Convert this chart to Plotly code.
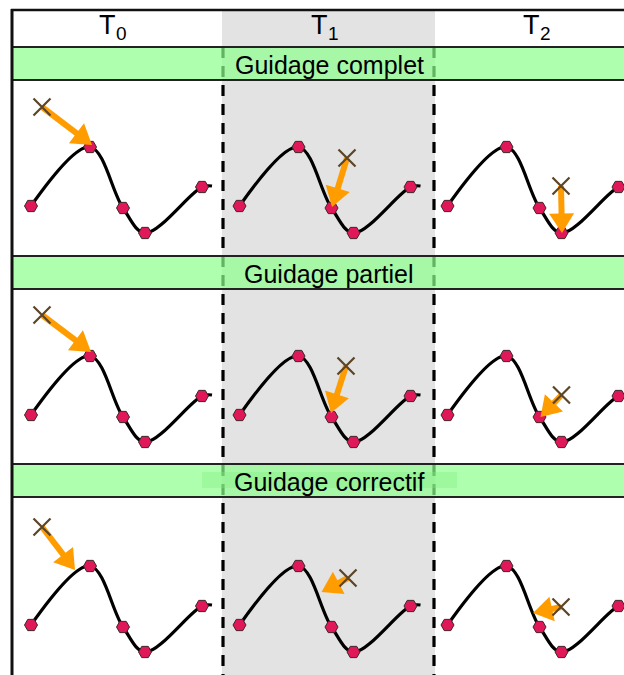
import math
import plotly.graph_objects as go

# canvas size (pixel coordinates, y grows downward)
W, H = 624, 675

# column headers (letter + index) and band titles
header_letter = ["T", "T", "T"]
header_index = ["0", "1", "2"]
band_titles = ["Guidage complet", "Guidage partiel", "Guidage correctif"]

# base curve (panel T0 / first row); the last knot is only the curve end
curve_x = [31, 90, 123, 145, 202, 212]
curve_y = [206, 147, 208, 233, 187, 186]

# shift of each column / row panel
col_shift = [0, 208.5, 416.5]
row_shift = [0, 209, 419]

# cursor (cross) and arrow tip for each row, in base panel coordinates
cross_x = [[42, 138.5, 144.5], [42, 137.5, 145], [42, 139.5, 144.5]]
cross_y = [[107, 158, 186], [106, 157, 186], [108, 159, 188]]
tip_x = [[92, 123.5, 145.5], [91, 122.5, 124], [75, 113, 116.5]]
tip_y = [[145, 207, 233], [143, 204, 208], [151, 173, 194]]

band_top = [47, 256, 464]
band_h = 33

ORANGE = "#ff9c00"
HEAD_LEN, HEAD_HALF = 19.5, 12.5
FONT = "Liberation Sans, Arial"

fig = go.Figure()

shapes = []
annotations = []

# gray column behind T1
shapes.append(dict(type="rect", x0=222, x1=435, y0=10, y1=H, fillcolor="#e3e3e3",
                   line_width=0, layer="below"))
# dashed separators
for xs in [223, 434]:
    shapes.append(dict(type="line", x0=xs, x1=xs, y0=47, y1=H, layer="below",
                       line=dict(color="black", width=3.2, dash="11px,8px")))


def add_arrow(x0, y0, x1, y1):
    # shaft + triangular head, from (x0, y0) to the tip (x1, y1)
    ux, uy = x1 - x0, y1 - y0
    d = math.hypot(ux, uy)
    ux, uy = ux / d, uy / d
    bx, by = x1 - HEAD_LEN * ux, y1 - HEAD_LEN * uy
    fig.add_trace(go.Scatter(
        x=[x0, bx + 2 * ux], y=[y0, by + 2 * uy], mode="lines",
        line=dict(color=ORANGE, width=6), hoverinfo="skip", showlegend=False))
    fig.add_trace(go.Scatter(
        x=[x1, bx - HEAD_HALF * uy, bx + HEAD_HALF * uy, x1],
        y=[y1, by + HEAD_HALF * ux, by - HEAD_HALF * ux, y1],
        mode="lines", fill="toself", fillcolor=ORANGE, line=dict(width=0, color=ORANGE),
        hoverinfo="skip", showlegend=False))


# curves, markers, crosses and arrows
for r in range(3):
    for c in range(3):
        dx, dy = col_shift[c], row_shift[r]
        fig.add_trace(go.Scatter(
            x=[v + dx for v in curve_x], y=[v + dy for v in curve_y],
            mode="lines", line=dict(color="black", width=3.2, shape="spline"),
            hoverinfo="skip", showlegend=False))
        fig.add_trace(go.Scatter(
            x=[v + dx for v in curve_x[:5]], y=[v + dy for v in curve_y[:5]],
            mode="markers",
            marker=dict(symbol="hexagon2", size=13, color="#e0185a",
                        line=dict(color="#3a2a2a", width=1)),
            hoverinfo="skip", showlegend=False))
        add_arrow(cross_x[r][c] + dx, cross_y[r][c] + dy,
                  tip_x[r][c] + dx, tip_y[r][c] + dy)
        fig.add_trace(go.Scatter(
            x=[cross_x[r][c] + dx], y=[cross_y[r][c] + dy], mode="markers",
            marker=dict(symbol="x-thin", size=17,
                        line=dict(color="#5c4426", width=2.2)),
            hoverinfo="skip", showlegend=False))

# green bands with titles
for i, t in enumerate(band_titles):
    y0 = band_top[i]
    shapes.append(dict(type="rect", x0=12, x1=W + 5, y0=y0, y1=y0 + band_h,
                       fillcolor="rgba(140,255,140,0.7)", layer="above",
                       line=dict(color="#222", width=2)))
    if i == 2:
        shapes.append(dict(type="rect", x0=202, x1=457, y0=y0 + 8, y1=y0 + 24,
                           fillcolor="rgba(130,235,130,0.35)", line_width=0, layer="above"))
    annotations.append(dict(x=329, y=y0 + band_h / 2 + 1, xref="x", yref="y",
                            text=t, showarrow=False,
                            font=dict(size=25, color="black", family=FONT)))

# headers: big letter with a lowered index
for c in range(3):
    xr = 117.5 + col_shift[c] * 1.02
    annotations.append(dict(x=xr, y=25, xref="x", yref="y", xanchor="right",
                            text=header_letter[c], showarrow=False,
                            font=dict(size=27, color="black", family=FONT)))
    annotations.append(dict(x=xr - 4, y=33, xref="x", yref="y", xanchor="left",
                            text=header_index[c], showarrow=False,
                            font=dict(size=19, color="black", family=FONT)))

# outer frame
shapes.append(dict(type="line", x0=12, x1=12, y0=9, y1=H, layer="above",
                   line=dict(color="#111", width=3)))
shapes.append(dict(type="line", x0=11, x1=W + 5, y0=10, y1=10, layer="above",
                   line=dict(color="#111", width=2.5)))

fig.update_layout(
    width=W, height=H,
    margin=dict(l=0, r=0, t=0, b=0),
    paper_bgcolor="white", plot_bgcolor="white",
    shapes=shapes, annotations=annotations,
    xaxis=dict(range=[0, W], visible=False, fixedrange=True),
    yaxis=dict(range=[H, 0], visible=False, fixedrange=True),
)

fig.write_html("out.html", config=dict(displayModeBar=False),
               post_script="document.body.style.margin='0';")
